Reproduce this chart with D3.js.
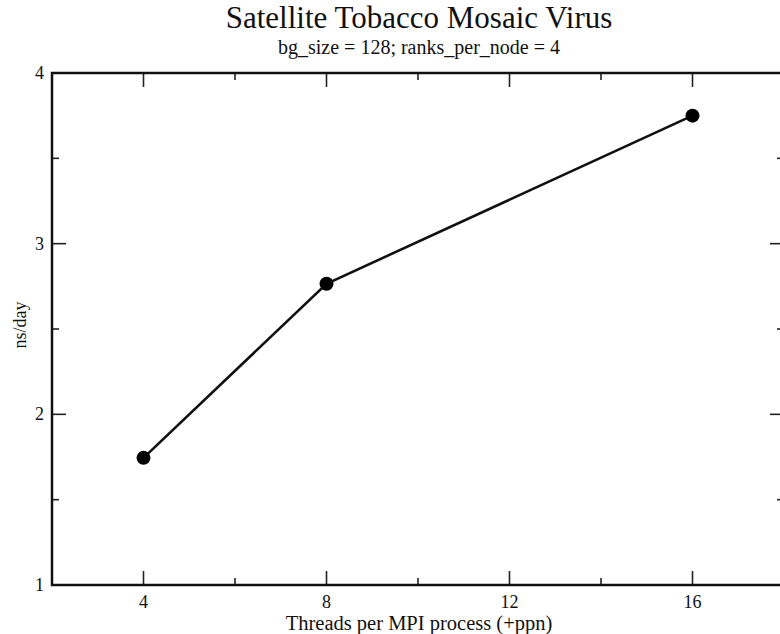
<!DOCTYPE html>
<html><head><meta charset="utf-8">
<script src="https://cdn.jsdelivr.net/npm/d3@7"></script>
<style>
body{margin:0;background:#fff;}
svg{display:block;}
text{font-family:"Liberation Serif","Times New Roman",serif;fill:#111;}
</style></head>
<body>
<svg id="c" width="780" height="634"></svg>
<script>
const threads = [4, 8, 16];
const nsPerDay = [1.745, 2.765, 3.75];
const xTicks = [4, 8, 12, 16];
const xMinorTicks = [6, 10, 14];
const yTicks = [1, 2, 3, 4];
const yMinorTicks = [1.5, 2.5, 3.5];
const title = "Satellite Tobacco Mosaic Virus";
const subtitle = "bg_size = 128; ranks_per_node = 4";
const xLabel = "Threads per MPI process (+ppn)";
const yLabel = "ns/day";

const svg = d3.select("#c");
const L = 52, R = 784, T = 73, B = 585;
const x = d3.scaleLinear().domain([2, 18]).range([L, R]);
const y = d3.scaleLinear().domain([1, 4]).range([B, T]);

const axW = 2.5, major = 14, minor = 7;
const g = svg.append("g");

function tk(x1,y1,x2,y2,w){g.append("line").attr("x1",x1).attr("y1",y1).attr("x2",x2).attr("y2",y2).attr("stroke","#222").attr("stroke-width",w);}
xTicks.forEach(v=>{tk(x(v),B,x(v),B-major,1.6);tk(x(v),T,x(v),T+major,1.6);});
xMinorTicks.forEach(v=>{tk(x(v),B,x(v),B-minor,1.6);tk(x(v),T,x(v),T+minor,1.6);});
yTicks.forEach(v=>{tk(L,y(v),L+major,y(v),1.6);tk(R,y(v),R-major,y(v),1.6);});
yMinorTicks.forEach(v=>{tk(L,y(v),L+minor,y(v),1.6);tk(R,y(v),R-minor,y(v),1.6);});

g.append("rect").attr("x",L).attr("y",T).attr("width",R-L).attr("height",B-T)
 .attr("fill","none").attr("stroke","#111").attr("stroke-width",axW);

xTicks.forEach(v=>{g.append("text").attr("x",x(v)).attr("y",B+23).attr("text-anchor","middle").attr("font-size",18).text(v);});
yTicks.forEach(v=>{g.append("text").attr("x",L-8).attr("y",y(v)+6).attr("text-anchor","end").attr("font-size",18).text(v);});

const data = threads.map((t,i)=>({t, v:nsPerDay[i]}));
g.append("path").datum(data).attr("fill","none").attr("stroke","#111").attr("stroke-width",2.6)
 .attr("d", d3.line().x(d=>x(d.t)).y(d=>y(d.v)));
g.selectAll("circle.pt").data(data).join("circle").attr("class","pt")
 .attr("cx",d=>x(d.t)).attr("cy",d=>y(d.v)).attr("r",7).attr("fill","#000");

const cx = 419;
svg.append("text").attr("x",cx).attr("y",28).attr("text-anchor","middle").attr("font-size",31).text(title);
svg.append("text").attr("x",cx).attr("y",54).attr("text-anchor","middle").attr("font-size",20).text(subtitle);
svg.append("text").attr("x",cx).attr("y",630).attr("text-anchor","middle").attr("font-size",20.5).text(xLabel);
svg.append("text").attr("transform",`translate(26,${(T+B)/2 - 4}) rotate(-90)`).attr("text-anchor","middle").attr("font-size",18).text(yLabel);
</script>
</body></html>
